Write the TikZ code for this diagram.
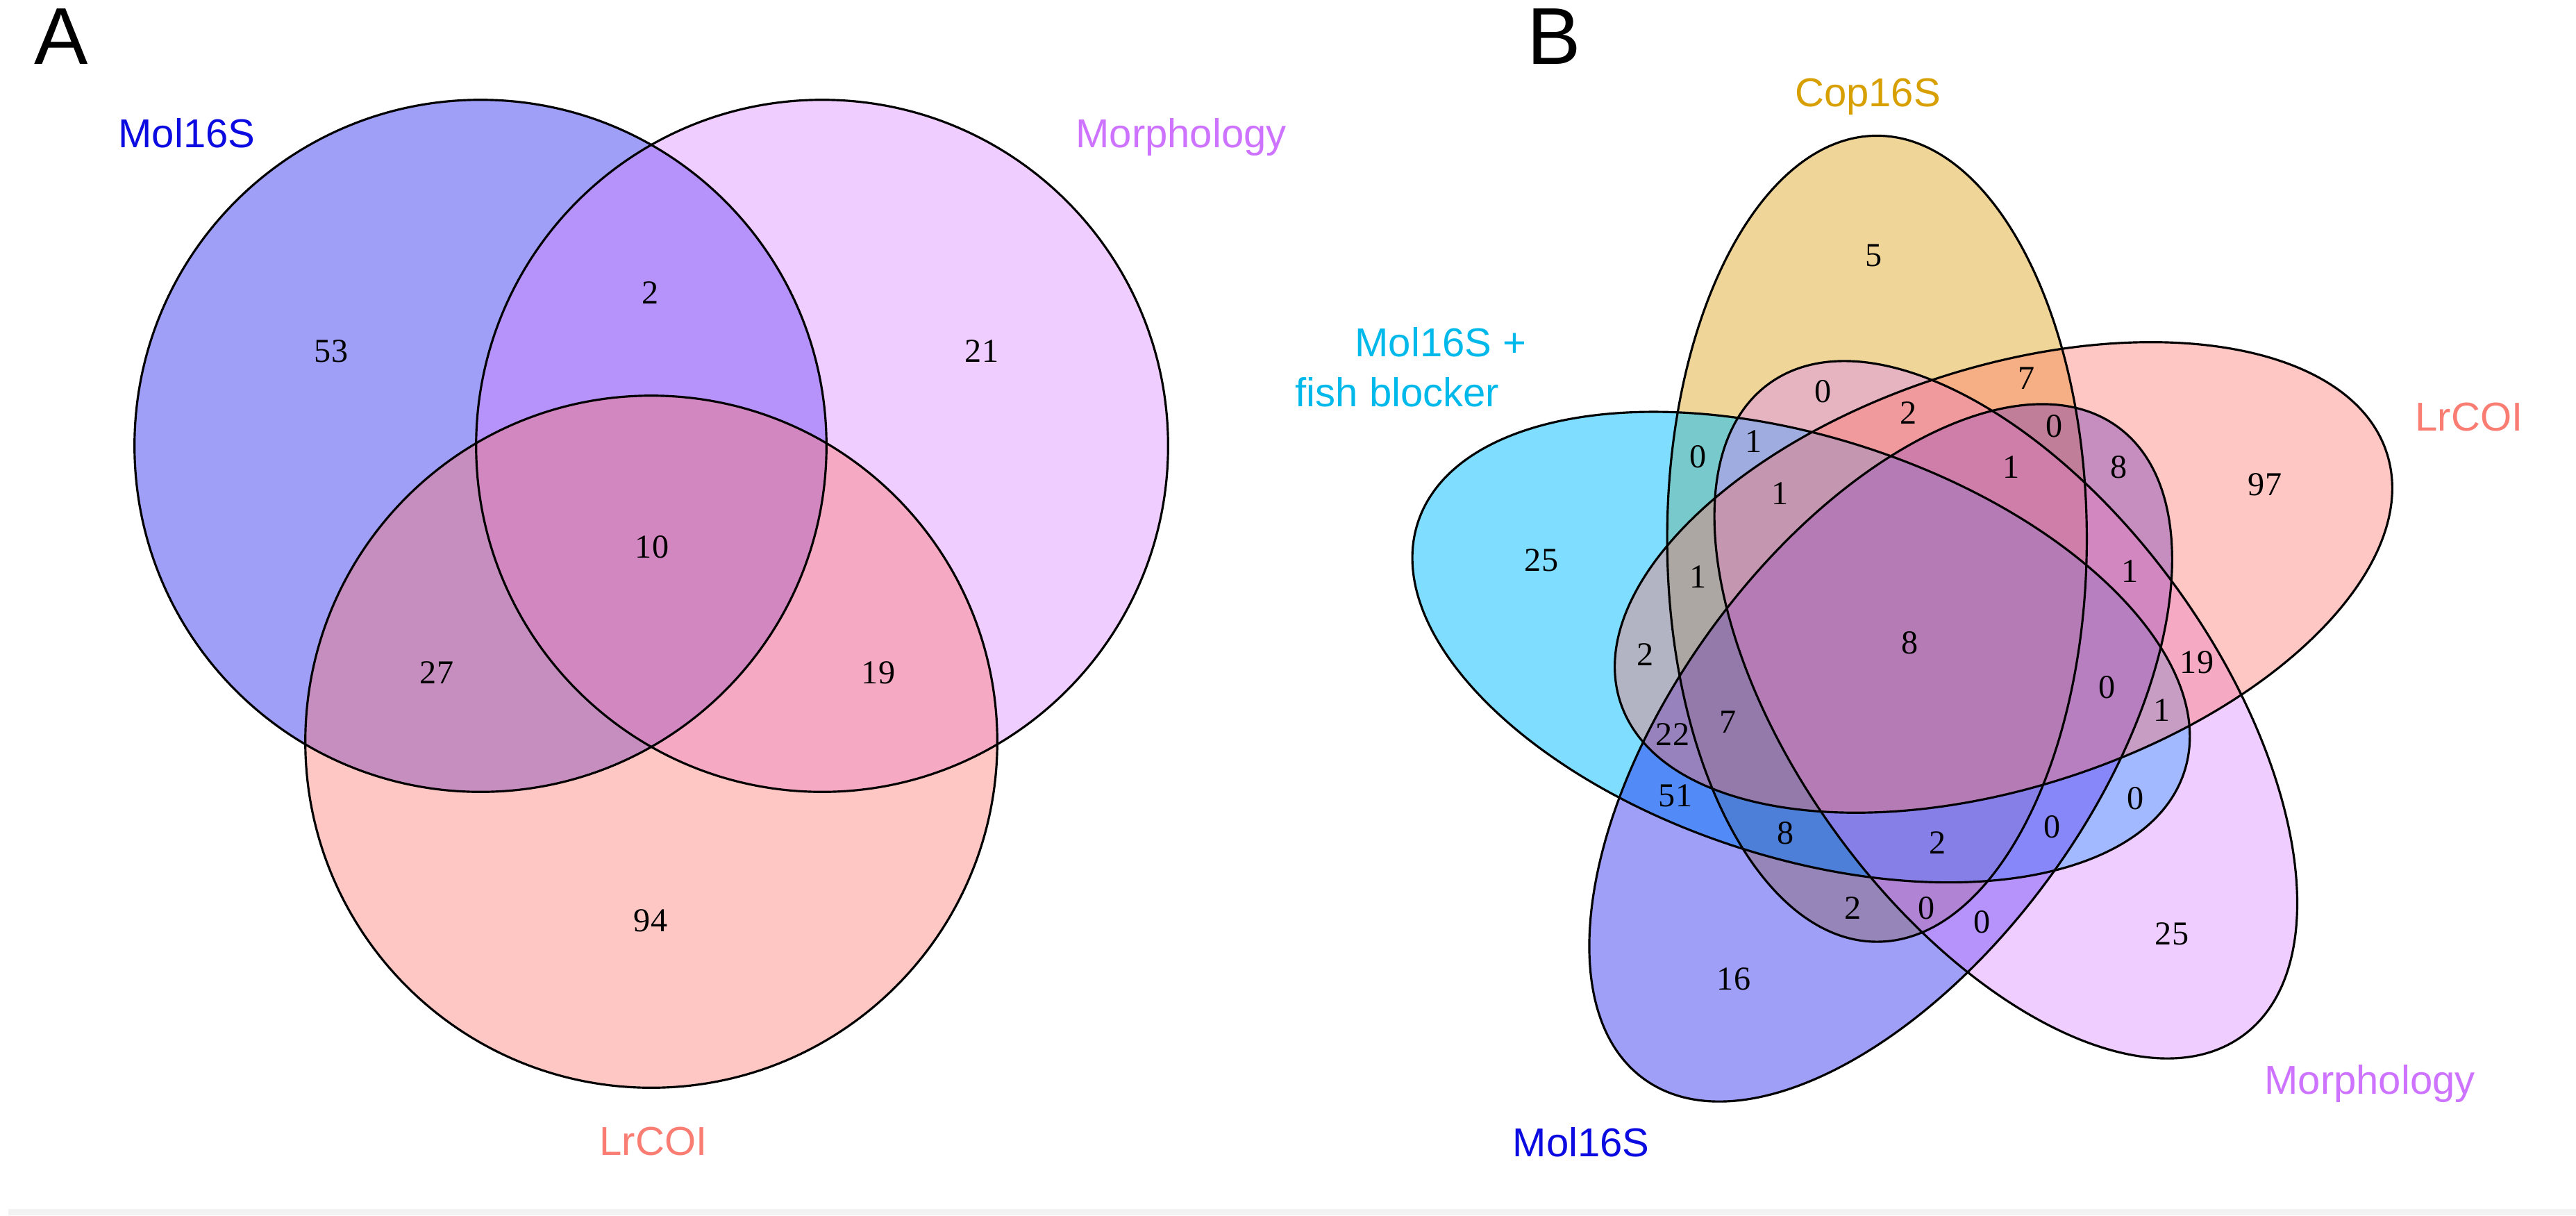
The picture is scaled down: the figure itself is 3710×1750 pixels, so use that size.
\documentclass[tikz,border=0pt]{standalone}
\usepackage{fontspec}
\setmainfont{Liberation Serif}
\setsansfont{Liberation Sans}
\definecolor{molfill}{RGB}{15,15,235}
\definecolor{morfill}{RGB}{217,130,255}
\definecolor{lrfill}{RGB}{255,117,105}
\definecolor{copfill}{RGB}{218,150,0}
\definecolor{fishfill}{RGB}{0,190,255}
\definecolor{moltext}{RGB}{10,10,225}
\definecolor{mortext}{RGB}{205,115,255}
\definecolor{lrtext}{RGB}{250,125,115}
\definecolor{coptext}{RGB}{215,160,0}
\definecolor{fishtext}{RGB}{0,185,235}
\begin{document}
\begin{tikzpicture}[x=0.01cm,y=-0.01cm,
  num/.style={font=\fontsize{13.7}{14}\selectfont, inner sep=0pt},
  lab/.style={font=\sffamily\fontsize{16.5}{18}\selectfont, inner sep=0pt, anchor=base},
  panel/.style={font=\sffamily\fontsize{33}{36}\selectfont, inner sep=0pt, anchor=base},
  outline/.style={draw=black, line width=0.9pt},
  setfill/.style={fill=#1, fill opacity=0.4}]
\useasboundingbox (0,0) rectangle (3710,1750);
\fill[white] (0,0) rectangle (3710,1750);
\fill[black!5] (12,1741) rectangle (3710,1750);

% ---------------- Panel A ----------------
\coordinate (cMol) at (692,642);
\coordinate (cMor) at (1184,642);
\coordinate (cLr) at (938,1068);
\fill[setfill=molfill] (cMol) circle[radius=4.98cm];
\fill[setfill=morfill] (cMor) circle[radius=4.98cm];
\fill[setfill=lrfill] (cLr) circle[radius=4.98cm];
\draw[outline] (cMol) circle[radius=4.98cm];
\draw[outline] (cMor) circle[radius=4.98cm];
\draw[outline] (cLr) circle[radius=4.98cm];

\node[panel] (pA) at (88,92) {A};
\node[lab, text=moltext] (lA1) at (269,212) {Mol16S};
\node[lab, text=mortext] (lA2) at (1701,212) {Morphology};
\node[lab, text=lrtext] (lA3) at (941,1663) {LrCOI};

\node[num] (a1) at (477,506) {53};
\node[num] (a2) at (937,422) {2};
\node[num] (a3) at (1414,506) {21};
\node[num] (a4) at (939,788) {10};
\node[num] (a5) at (629,969) {27};
\node[num] (a6) at (1265,969) {19};
\node[num] (a7) at (937,1326) {94};

% ---------------- Panel B ----------------
\coordinate (cB) at (2756,929);
\begin{scope}[shift={(cB)}]
  \fill[setfill=copfill, rotate=90] (19:1.62cm) ellipse[x radius=5.8cm, y radius=3.02cm];
  \fill[fill=fishfill, fill opacity=0.5, rotate=162] (19:1.62cm) ellipse[x radius=5.8cm, y radius=3.02cm];
  \fill[setfill=molfill, rotate=234] (19:1.62cm) ellipse[x radius=5.8cm, y radius=3.02cm];
  \fill[setfill=morfill, rotate=306] (19:1.62cm) ellipse[x radius=5.8cm, y radius=3.02cm];
  \fill[setfill=lrfill, rotate=18] (19:1.62cm) ellipse[x radius=5.8cm, y radius=3.02cm];
  \foreach \ang in {90,162,234,306,18}
    \draw[outline, rotate=\ang] (19:1.62cm) ellipse[x radius=5.8cm, y radius=3.02cm];
\end{scope}

\node[panel] (pB) at (2238,92) {B};
\node[lab, text=coptext] (lB1) at (2690,153) {Cop16S};
\node[lab, text=fishtext] (lB2) at (2075,513) {Mol16S +};
\node[lab, text=fishtext, anchor=base east] (lB3) at (2160,585) {fish blocker};
\node[lab, text=lrtext] (lB4) at (3556,620) {LrCOI};
\node[lab, text=mortext] (lB5) at (3413,1575) {Morphology};
\node[lab, text=moltext] (lB6) at (2277,1665) {Mol16S};

\node[num] (b1) at (2698,368) {5};
\node[num] (b2) at (2446,658) {0};
\node[num] (b3) at (2526,636) {1};
\node[num] (b4) at (2625,564) {0};
\node[num] (b5) at (2748,595) {2};
\node[num] (b6) at (2918,545) {7};
\node[num] (b7) at (2958,614) {0};
\node[num] (b8) at (3051,673) {8};
\node[num] (b9) at (3262,698) {97};
\node[num] (b10) at (2220,807) {25};
\node[num] (b11) at (2564,711) {1};
\node[num] (b12) at (2896,673) {1};
\node[num] (b13) at (2446,831) {1};
\node[num] (b14) at (3067,823) {1};
\node[num] (b15) at (2750,926) {8};
\node[num] (b16) at (2370,943) {2};
\node[num] (b17) at (3164,954) {19};
\node[num] (b18) at (3034,990) {0};
\node[num] (b19) at (2409,1058) {22};
\node[num] (b20) at (2489,1040) {7};
\node[num] (b21) at (3113,1023) {1};
\node[num] (b22) at (2413,1146) {51};
\node[num] (b23) at (3075,1150) {0};
\node[num] (b24) at (2571,1200) {8};
\node[num] (b25) at (2790,1214) {2};
\node[num] (b26) at (2955,1191) {0};
\node[num] (b27) at (2668,1308) {2};
\node[num] (b28) at (2774,1308) {0};
\node[num] (b29) at (2854,1328) {0};
\node[num] (b30) at (3128,1345) {25};
\node[num] (b31) at (2497,1410) {16};
\end{tikzpicture}
\end{document}
